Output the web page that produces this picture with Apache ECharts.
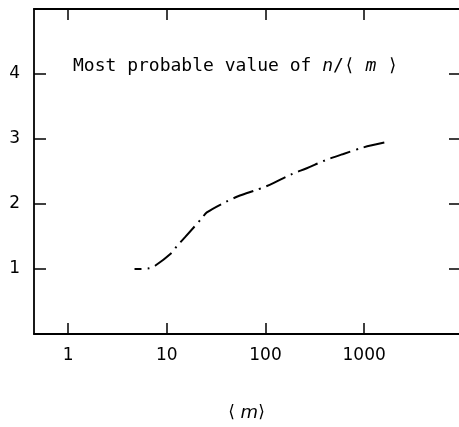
<!DOCTYPE html>
<html><head><meta charset="utf-8">
<script src="https://cdn.jsdelivr.net/npm/echarts@6/dist/echarts.min.js"></script>
<style>html,body{margin:0;padding:0;background:#fff}#c{width:459px;height:427px}</style>
</head><body><div id="c"></div>
<script>
var meanM = [4.7, 6.6, 7.6, 11.2, 12.6, 15.3, 22.6, 25.4, 40.5, 55, 78.5, 101, 120, 185, 262, 400, 616, 980, 1660];
var mostProbable = [1.0, 1.01, 1.05, 1.25, 1.35, 1.49, 1.78, 1.87, 2.04, 2.13, 2.21, 2.27, 2.32, 2.46, 2.55, 2.67, 2.77, 2.87, 2.95];
var xTickValues = [1, 10, 100, 1000];
var xTickLabels = ['1', '10', '100', '1000'];
var yTickValues = [1, 2, 3, 4];
var yTickLabels = ['1', '2', '3', '4'];

var FONT = 'DejaVu Sans';
var MONO = 'DejaVu Sans Mono';
var chart = echarts.init(document.getElementById('c'), null, {renderer: 'canvas'});
var pts = meanM.map(function (v, i) { return [v, mostProbable[i]]; });
function xAxisDef(pos, withLabels) {
  var ax = {
    type: 'log', logBase: 10, min: 0.45, max: 9150, position: pos,
    splitLine: {show: false}, minorTick: {show: false},
    axisLine: {show: true, onZero: false, lineStyle: {color: '#000', width: 1.8}},
    axisTick: {show: true, inside: true, length: 11, customValues: xTickValues, lineStyle: {color: '#000', width: 1.5}},
    axisLabel: {
      show: withLabels, margin: 13, fontFamily: FONT, fontSize: 17, color: '#000',
      customValues: xTickValues,
      formatter: function (v) { return xTickLabels[xTickValues.indexOf(Math.round(v))] || ''; }
    }
  };
  if (withLabels) {
    ax.name = '{a|\u27E8}{m| m}{a|\u27E9}';
    ax.nameLocation = 'middle';
    ax.nameGap = 70;
    ax.nameTextStyle = {rich: {
      a: {fontFamily: FONT, fontSize: 17, color: '#000'},
      m: {fontFamily: FONT, fontSize: 18, fontStyle: 'italic', color: '#000'}
    }};
  }
  return ax;
}
chart.setOption({
  animation: false,
  grid: {left: 34, right: 0, top: 9, bottom: 93, containLabel: false, outerBoundsMode: 'none'},
  xAxis: [xAxisDef('bottom', true), xAxisDef('top', false)],
  yAxis: [
    {
      type: 'value', min: 0, max: 5, interval: 1, position: 'left',
      splitLine: {show: false},
      axisLine: {show: true, onZero: false, lineStyle: {color: '#000', width: 1.8}},
      axisTick: {show: true, inside: true, length: 12, customValues: yTickValues, lineStyle: {color: '#000', width: 1.5}},
      axisLabel: {
        margin: 14, fontFamily: FONT, fontSize: 17, color: '#000',
        customValues: yTickValues,
        formatter: function (v) { return yTickLabels[yTickValues.indexOf(v)] || ''; }
      }
    },
    {
      type: 'value', min: 0, max: 5, interval: 1, position: 'right',
      splitLine: {show: false},
      axisLine: {show: false},
      axisTick: {show: true, inside: true, length: 10, customValues: yTickValues, lineStyle: {color: '#000', width: 1.5}},
      axisLabel: {show: false, customValues: yTickValues}
    }
  ],
  graphic: [{
    type: 'text', left: 73, top: 57,
    style: {
      text: '{t|Most probable value of }{i|n}{t|/\u27E8 }{i|m}{t| \u27E9}',
      rich: {
        t: {fontFamily: MONO, fontSize: 18, fill: '#000'},
        i: {fontFamily: MONO, fontSize: 18, fontStyle: 'italic', fill: '#000'}
      }
    }
  }],
  series: [{
    type: 'line', data: pts, xAxisIndex: 0, yAxisIndex: 0,
    smooth: 0.3, symbol: 'none',
    lineStyle: {color: '#000', width: 2, type: [21, 6, 2, 6], dashOffset: 14, cap: 'butt'}
  }]
});
</script>
</body></html>
